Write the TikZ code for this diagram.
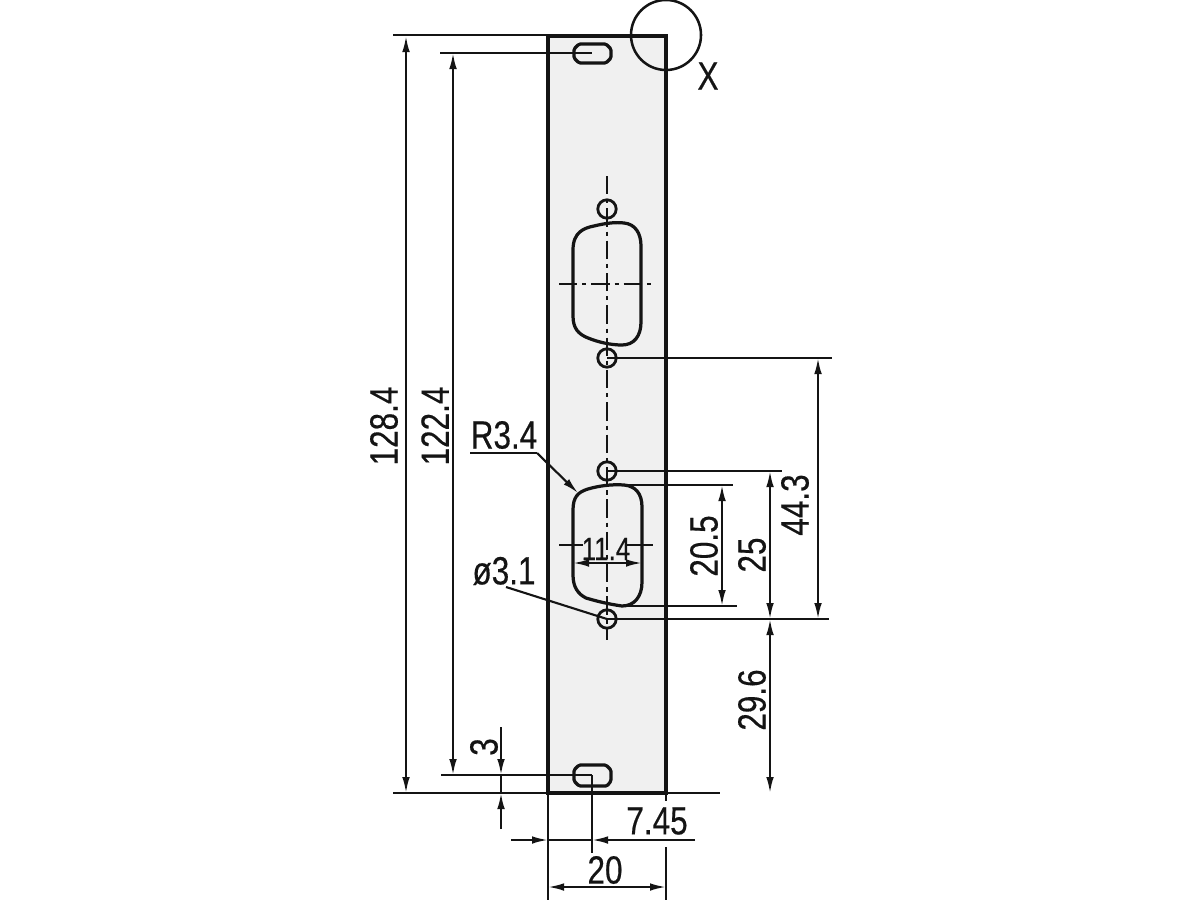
\documentclass[tikz,border=0pt]{standalone}
\usepackage{fontspec}
\setmainfont[FakeStretch=0.8,FakeBold=0.35]{Liberation Sans}
\usetikzlibrary{arrows.meta}
\definecolor{panelColor}{RGB}{240,240,240}
\definecolor{inkColor}{RGB}{20,20,20}
\tikzset{panel/.style={draw=inkColor, fill=panelColor, line width=2.3pt}}
\tikzset{outline/.style={draw=inkColor, line width=2.3pt, line join=round}}
\tikzset{hole/.style={circle, draw=inkColor, line width=2pt, minimum size=.46cm, inner sep=0pt}}
\tikzset{extension/.style={draw=inkColor, line width=1.5pt}}
\tikzset{dimension/.style={extension, {Latex[length=.4cm,width=.19cm]}-{Latex[length=.4cm,width=.19cm]}}}
\tikzset{pointer/.style={extension, -{Latex[length=.4cm,width=.19cm]}}}
\tikzset{centerline/.style={draw=inkColor, line width=1.5pt, dash pattern=on 13pt off 3.5pt on 3pt off 3.5pt}}
\tikzset{measure/.style={inkColor, inner sep=0pt, font=\fontsize{28}{30}\selectfont}}
\tikzset{measurevert/.style={measure, rotate=90}}

\begin{document}
\begin{tikzpicture}[x=.025cm, y=-.025cm]
\useasboundingbox (0,0) rectangle (1200,900);

% Panel
\draw [panel] (548,36) rectangle (666,793);

% Center lines
\draw [centerline] (607,176) -- (607,640);
\draw [centerline] (559,284) -- (652,284);

% Cutouts
\draw [outline, rounded corners=1pt] (579,44) -- (606,44) -- (611,49) -- (611,58) -- (606,63) -- (579,63) -- (574,58) -- (574,49) -- cycle;
\draw [outline, rounded corners=1pt] (579,765) -- (606,765) -- (611,770) -- (611,781) -- (607,786) -- (579,786) -- (574,781) -- (574,770) -- cycle;

\draw [outline] (573,250) .. controls (573,232) and (584,228) .. (594,226) .. controls (606,223) and (616,222) .. (624,223) .. controls (635,224) and (641,233) .. (641,246)
    -- (641,322) .. controls (641,336) and (634,345) .. (622,345) .. controls (610,345) and (598,342) .. (588,338) .. controls (578,334) and (573,328) .. (573,316) -- cycle;

\draw [outline] (573,510) .. controls (573,497) and (578,492) .. (588,489) .. controls (598,486) and (612,484) .. (624,485) .. controls (635,486) and (642,493) .. (642,507)
    -- (642,582) .. controls (642,597) and (634,606) .. (622,606) .. controls (608,604) and (596,601) .. (586,598) .. controls (578,594) and (573,587) .. (573,575) -- cycle;

% Nodes
\node (HoleA) [hole] at (607,209) {};
\node (HoleB) [hole] at (607,358) {};
\node (HoleC) [hole] at (607,471) {};
\node (HoleD) [hole] at (607,619) {};

\coordinate (PanelTopRight) at (666,35);
\node (DetailCircle) [circle, draw=inkColor, line width=1.8pt, minimum size=1.75cm, inner sep=0pt] at (PanelTopRight) {};
\node (DetailLabel) [measure] at (708,76) {X};

\node (LabelTotal) [measurevert] at (384,426) {128.4};
\node (LabelPitch) [measurevert] at (435,426) {122.4};
\node (LabelSlot) [measurevert] at (484,747) {3};
\node (LabelRadius) [measure] at (504,435) {R3.4};
\node (LabelBore) [measure] at (504,571) {ø3.1};
\node (LabelWidth) [measure, font=\fontsize{23}{25}\selectfont] at (606,549) {11.4};
\node (LabelHeight) [measurevert] at (704,546) {20.5};
\node (LabelScrews) [measurevert] at (752,555) {25};
\node (LabelBottom) [measurevert] at (752,700) {29.6};
\node (LabelCenters) [measurevert] at (795,505) {44.3};
\node (LabelOffset) [measure] at (657,821) {7.45};
\node (LabelPanel) [measure] at (605,870) {20};

% Connectors
\begin{scope}
    \draw [extension, line width=2pt] (393,35) -- (548,35);
    \draw [extension] (440,53) -- (592,53);
    \draw [extension] (441,775) -- (592,775);
    \draw [extension, line width=2pt] (393,793) -- (720,793);
    \draw [extension] (592,775) -- (592,853);
    \draw [extension] (548,793) -- (548,900);
    \draw [extension] (666,793) -- (666,801);
    \draw [extension] (666,847) -- (666,900);

    \draw [dimension] (406,36) -- (406,793);
    \draw [dimension] (453,53) -- (453,775);

    \draw [pointer] (501,727) -- (501,775);
    \draw [extension] (501,775) -- (501,793);
    \draw [pointer] (501,829) -- (501,793);

    \draw [pointer] (511,840) -- (548,840);
    \draw [extension] (548,840) -- (592,840);
    \draw [pointer] (695,840) -- (592,840);
    \draw [dimension] (548,887) -- (666,887);

    \draw [extension] (HoleB.center) -- (832,358);
    \draw [extension] (HoleC.center) -- (782,471);
    \draw [extension] (HoleD.center) -- (829,619);
    \draw [extension] (624,485) -- (733,485);
    \draw [extension] (620,606) -- (737,606);

    \draw [dimension] (722,485) -- (722,606);
    \draw [dimension] (770,471) -- (770,619);
    \draw [dimension] (770,619) -- (770,793);
    \draw [dimension] (818,358) -- (818,619);

    \draw [extension] (559,545) -- (583,545);
    \draw [extension] (627,545) -- (653,545);
    \draw [dimension] (573,563) -- (642,563);

    \draw [extension] (470,453) -- (537,453);
    \draw [pointer] (537,453) -- (578,493);
    \draw [extension] (506,587) -- (HoleD.center);
\end{scope}

\end{tikzpicture}
\end{document}
